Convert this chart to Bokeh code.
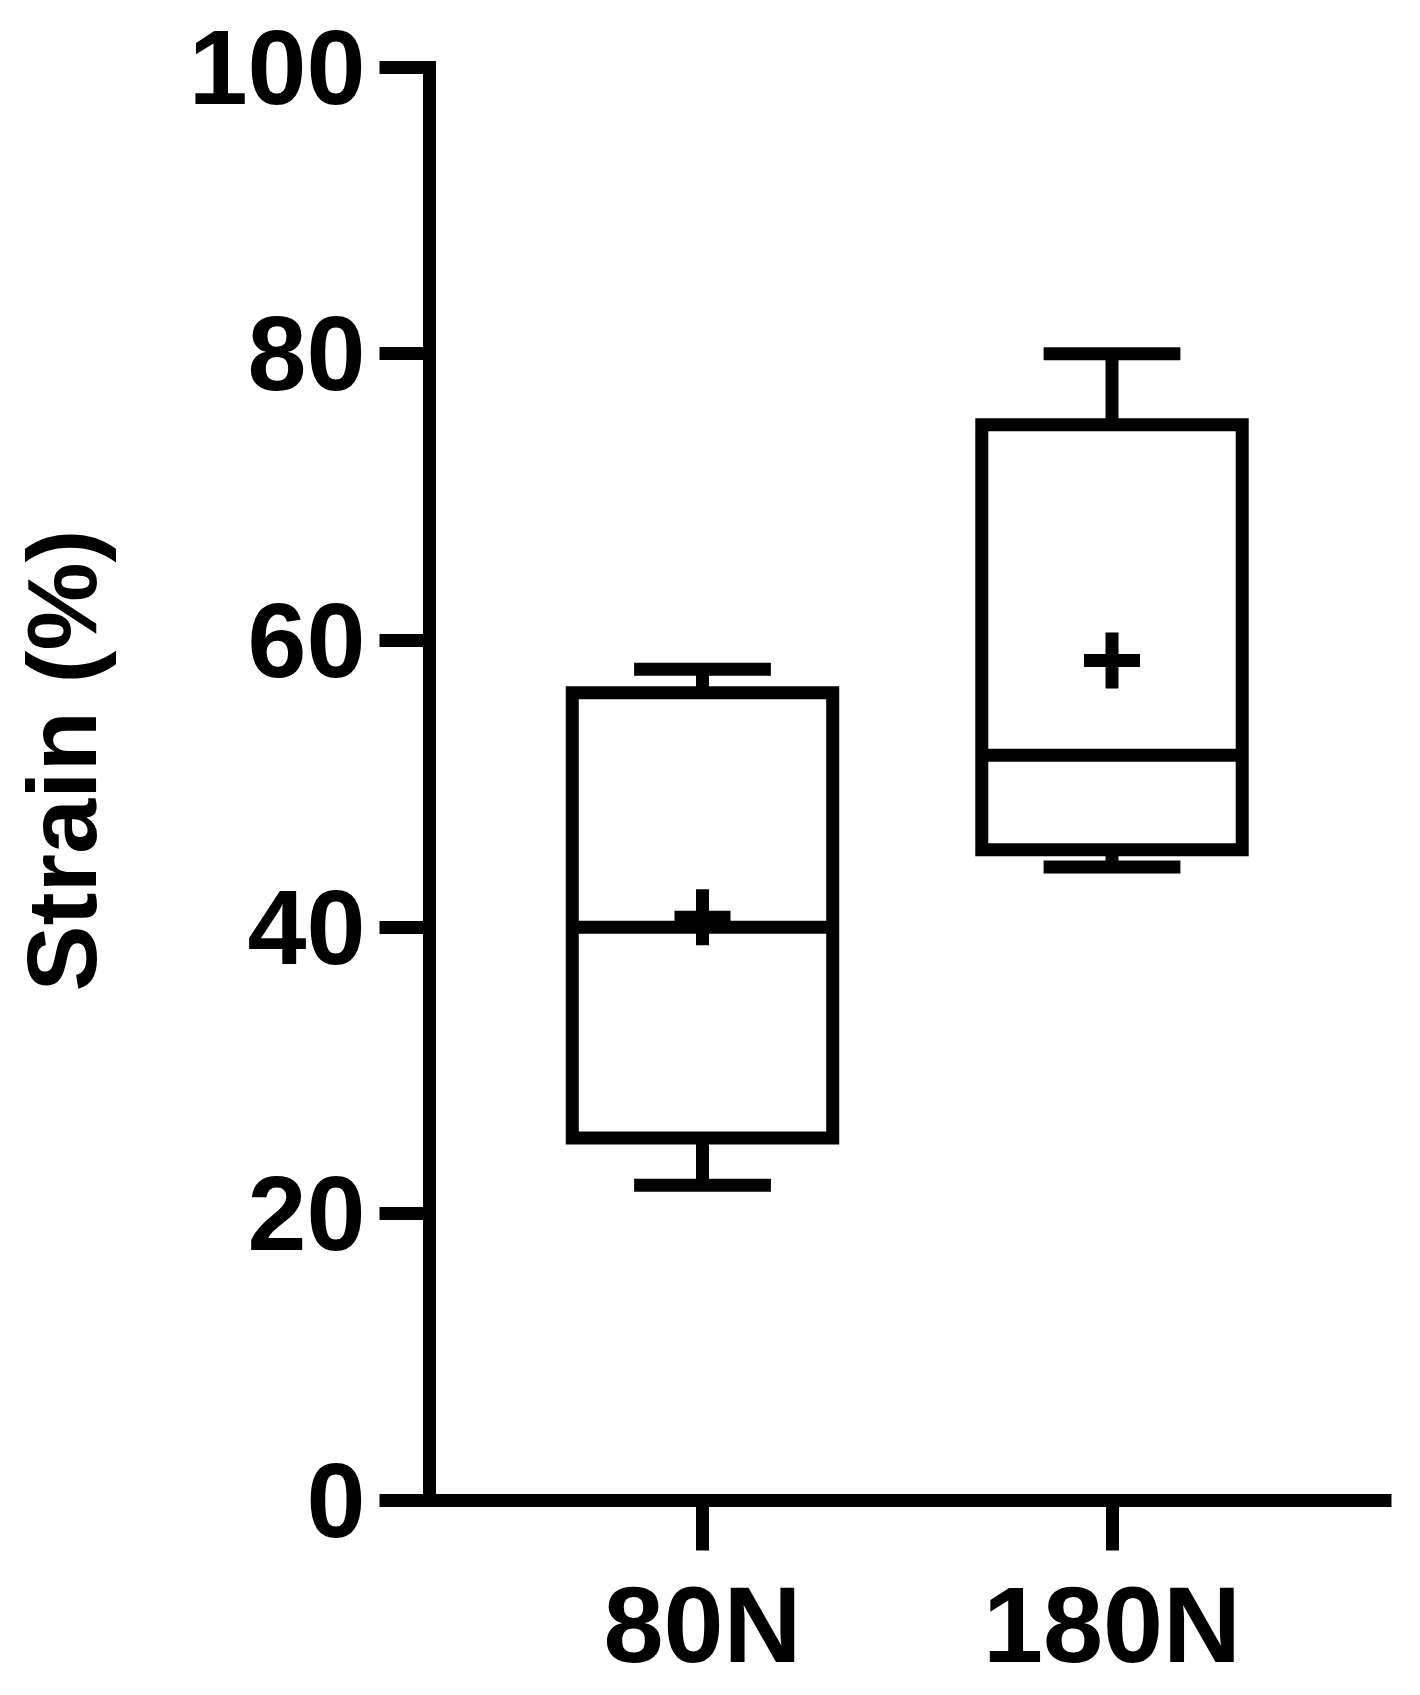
import math
from bokeh.plotting import figure
from bokeh.models import Range1d, FixedTicker, ColumnDataSource, Label
from bokeh.embed import file_html
from bokeh.resources import INLINE

# ---- data ----
categories = ["80N", "180N"]
whisker_low = [22.0, 44.2]
q1 = [25.3, 45.4]
median = [40.0, 52.0]
q3 = [56.35, 75.05]
whisker_high = [58.0, 80.0]
mean = [40.7, 58.6]
y_ticks = [0, 20, 40, 60, 80, 100]
y_label = "Strain (%)"

xpos = [i + 1 for i in range(len(categories))]
box_half = 0.318
cap_half = 0.167
y_axis_at = 0.3333      # where the vertical axis sits on the x scale
x_end = 2.6825          # right end of the horizontal axis
y_min, y_max = 0, 100   # extent of the vertical axis

src = ColumnDataSource(dict(
    x=xpos,
    left=[x - box_half for x in xpos],
    right=[x + box_half for x in xpos],
    cap_l=[x - cap_half for x in xpos],
    cap_r=[x + cap_half for x in xpos],
    wl=whisker_low, q1=q1, med=median, q3=q3, wh=whisker_high, mean=mean,
))

FONT = "Liberation Sans"
LW = 13

# the frame fills the whole figure; both axes are placed at fixed data locations
p = figure(width=1412, height=1687, output_backend="svg", toolbar_location=None,
           x_range=Range1d(-0.71429, 2.73382), y_range=Range1d(-13.045, 104.653),
           min_border_left=0, min_border_right=0, min_border_top=0,
           min_border_bottom=0)
p.outline_line_color = None
p.grid.visible = False
p.background_fill_color = "white"
p.border_fill_color = "white"

# whiskers
p.segment(x0="x", y0="q3", x1="x", y1="wh", source=src, line_color="black", line_width=LW)
p.segment(x0="x", y0="wl", x1="x", y1="q1", source=src, line_color="black", line_width=LW)
p.segment(x0="cap_l", y0="wh", x1="cap_r", y1="wh", source=src, line_color="black", line_width=LW)
p.segment(x0="cap_l", y0="wl", x1="cap_r", y1="wl", source=src, line_color="black", line_width=LW)
# boxes
p.quad(left="left", right="right", bottom="q1", top="q3", source=src,
       fill_color="white", line_color="black", line_width=LW, line_join="miter")
# medians
p.segment(x0="left", y0="med", x1="right", y1="med", source=src, line_color="black", line_width=LW)
# means
p.scatter(x="x", y="mean", source=src, marker="cross", size=56, line_color="black", line_width=LW)

# axes
xa = p.xaxis[0]
xa.ticker = FixedTicker(ticks=xpos)
xa.major_label_overrides = {x: c for x, c in zip(xpos, categories)}
xa.bounds = (y_axis_at, x_end)
xa.fixed_location = y_min
ya = p.yaxis[0]
ya.ticker = FixedTicker(ticks=y_ticks)
ya.bounds = (y_min, y_max)
ya.fixed_location = y_axis_at

for ax in (xa, ya):
    ax.axis_line_width = LW
    ax.axis_line_color = "black"
    ax.major_tick_line_width = LW
    ax.major_tick_line_color = "black"
    ax.major_tick_in = 0
    ax.major_tick_out = 50
    ax.minor_tick_line_color = None
    ax.major_label_text_font = FONT
    ax.major_label_text_font_style = "bold"
    ax.major_label_text_color = "black"
xa.major_label_text_font_size = "108px"
ya.major_label_text_font_size = "106px"
ya.axis_line_cap = "square"
ya.major_label_standoff = 14
xa.major_label_standoff = 13

# y-axis title (rotated), left of the tick labels
ylab = Label(x=-0.4286, y=51.63, text=y_label, angle=math.pi / 2,
             text_align="center", text_baseline="bottom",
             text_font=FONT, text_font_style="bold", text_font_size="99px",
             text_color="black")
p.add_layout(ylab)

open("out.html", "w").write(file_html(p, INLINE))
